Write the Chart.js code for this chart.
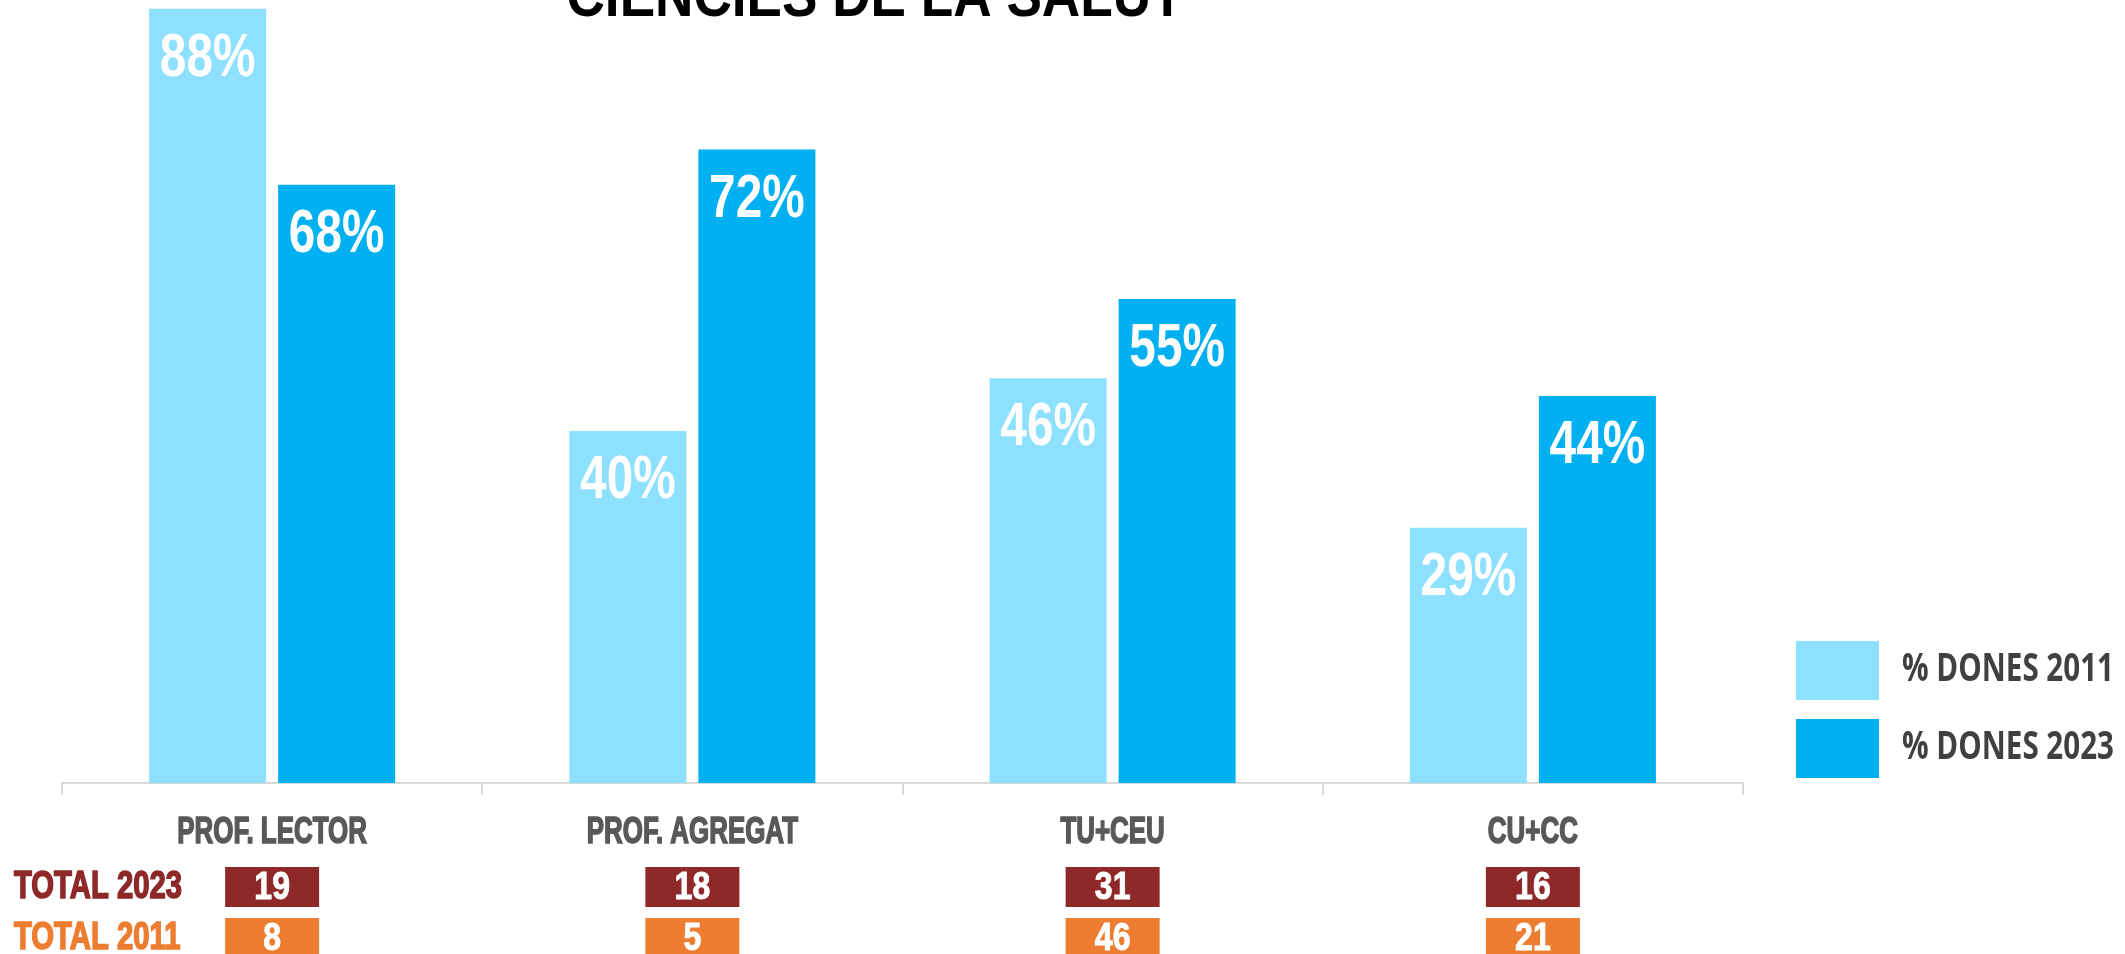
<!DOCTYPE html>
<html>
<head>
<meta charset="utf-8">
<script src="https://cdn.jsdelivr.net/npm/chart.js@4"></script>
<style>
  html, body { margin: 0; padding: 0; background: #fff; overflow: hidden; }
</style>
</head>
<body>
<canvas id="chart" width="2125" height="954"></canvas>
<script>
const chartTitle = "CIÈNCIES DE LA SALUT";
const categories = ["PROF. LECTOR", "PROF. AGREGAT", "TU+CEU", "CU+CC"];
const seriesLabels = ["% DONES 2011", "% DONES 2023"];
const women2011 = [88, 40, 46, 29];
const women2023 = [68, 72, 55, 44];
const rowLabels = ["TOTAL 2023", "TOTAL 2011"];
const total2023 = [19, 18, 31, 16];
const total2011 = [8, 5, 46, 21];

const LIGHT = "#8EE0FF";
const DARK = "#00B0F0";

// fillText with maxWidth squeezes the glyphs, gives a condensed look;
// a thin stroke of the same colour puts back some of the lost weight
function squeeze(ctx, text, x, y, ratio, stroke) {
  const w = ctx.measureText(text).width * ratio;
  ctx.fillText(text, x, y, w);
  if (stroke) {
    ctx.lineWidth = stroke;
    ctx.strokeStyle = ctx.fillStyle;
    ctx.strokeText(text, x, y, w);
  }
}

const titlePlugin = {
  id: "cutTitle",
  afterDraw(chart) {
    const ctx = chart.ctx;
    ctx.save();
    ctx.fillStyle = "#000";
    ctx.font = 'bold 62px "Liberation Sans", Arial, sans-serif';
    ctx.textAlign = "center";
    ctx.textBaseline = "alphabetic";
    ctx.fillText(chartTitle, 875, 16, 617);
    ctx.restore();
  }
};

const barLabels = {
  id: "barLabels",
  afterDatasetsDraw(chart) {
    const ctx = chart.ctx;
    ctx.save();
    ctx.fillStyle = "#fff";
    ctx.font = 'bold 62px "Liberation Sans", Arial, sans-serif';
    ctx.textAlign = "center";
    ctx.textBaseline = "middle";
    chart.data.datasets.forEach((ds, i) => {
      chart.getDatasetMeta(i).data.forEach((bar, j) => {
        squeeze(ctx, ds.data[j] + "%", bar.x, bar.y + 50, 0.77);
      });
    });
    ctx.restore();
  }
};

// category names under the axis, placed from the x scale
const categoryLabels = {
  id: "categoryLabels",
  afterDraw(chart) {
    const ctx = chart.ctx;
    const xs = chart.scales.x;
    ctx.save();
    ctx.fillStyle = "#595959";
    ctx.font = 'bold 36px "Liberation Sans", Arial, sans-serif';
    ctx.textAlign = "center";
    ctx.textBaseline = "middle";
    xs.ticks.forEach(t => {
      squeeze(ctx, xs.getLabelForValue(t.value), xs.getPixelForValue(t.value), 833, 0.72, 1.6);
    });
    ctx.restore();
  }
};

const totalsTable = {
  id: "totalsTable",
  afterDraw(chart) {
    const ctx = chart.ctx;
    const xs = chart.scales.x;
    const rows = [
      { label: rowLabels[0], values: total2023, color: "#8E2829", top: 867 },
      { label: rowLabels[1], values: total2011, color: "#ED7D31", top: 918 }
    ];
    ctx.save();
    ctx.textBaseline = "middle";
    rows.forEach(r => {
      const cy = r.top + 20;
      ctx.fillStyle = r.color;
      ctx.textAlign = "left";
      ctx.font = 'bold 38px "Liberation Sans", Arial, sans-serif';
      squeeze(ctx, r.label, 14, cy + 1, 0.77, 1.6);
      r.values.forEach((v, j) => {
        const cx = xs.getPixelForValue(j);
        ctx.fillStyle = r.color;
        ctx.fillRect(cx - 47, r.top, 94, 40);
        ctx.fillStyle = "#fff";
        ctx.textAlign = "center";
        ctx.font = 'bold 39px "Liberation Sans", Arial, sans-serif';
        squeeze(ctx, String(v), cx, cy + 1, 0.82, 1);
      });
    });
    ctx.restore();
  }
};

const sideLegend = {
  id: "sideLegend",
  afterDraw(chart) {
    const ctx = chart.ctx;
    ctx.save();
    ctx.textAlign = "left";
    ctx.textBaseline = "middle";
    ctx.font = 'bold 40px "Open Sans", sans-serif';
    chart.data.datasets.forEach((ds, i) => {
      const top = 641 + i * 78;
      ctx.fillStyle = ds.backgroundColor;
      ctx.fillRect(1796, top, 83, 59);
      ctx.fillStyle = "#404040";
      ctx.fillText(ds.label, 1902, top + 29, 212);
    });
    ctx.restore();
  }
};

new Chart(document.getElementById("chart"), {
  type: "bar",
  data: {
    labels: categories,
    datasets: [
      { label: seriesLabels[0], data: women2011, backgroundColor: LIGHT,
        categoryPercentage: 0.614, barPercentage: 0.907 },
      { label: seriesLabels[1], data: women2023, backgroundColor: DARK,
        categoryPercentage: 0.614, barPercentage: 0.907 }
    ]
  },
  options: {
    responsive: false,
    devicePixelRatio: 1,
    animation: false,
    layout: { padding: { left: 62, right: 382, top: 0, bottom: 159 } },
    plugins: {
      legend: { display: false },
      tooltip: { enabled: false },
      title: { display: false }
    },
    scales: {
      x: {
        grid: { drawOnChartArea: false, drawTicks: true, tickLength: 12,
                color: "#D9D9D9", lineWidth: 2, offset: true },
        border: { color: "#D9D9D9", width: 2 },
        ticks: { display: false }
      },
      y: { display: false, min: 0, max: 89 }
    }
  },
  plugins: [barLabels, categoryLabels, totalsTable, sideLegend, titlePlugin]
});
</script>
</body>
</html>
